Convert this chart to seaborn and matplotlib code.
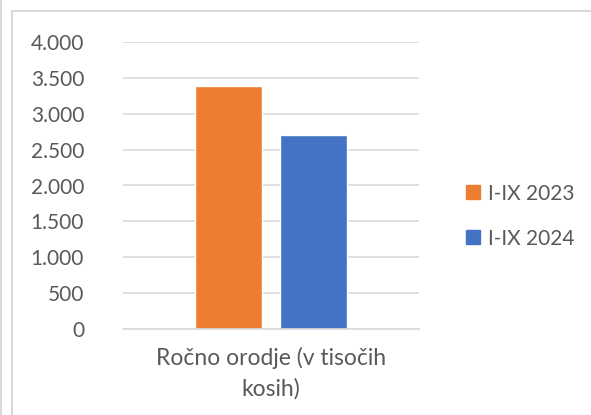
import matplotlib
matplotlib.use("Agg")
import matplotlib.pyplot as plt
import seaborn as sns
import pandas as pd
from matplotlib.lines import Line2D

categories = ["Ročno orodje (v tisočih\nkosih)"]
series = ["I-IX 2023", "I-IX 2024"]
values_2023 = [3385]
values_2024 = [2700]
colors = ["#ED7D31", "#4472C4"]
yticks = [0, 500, 1000, 1500, 2000, 2500, 3000, 3500, 4000]
ytick_labels = ["0", "500", "1.000", "1.500", "2.000", "2.500", "3.000", "3.500", "4.000"]

df = pd.DataFrame({
    "cat": categories * 2,
    "series": [series[0]] * len(categories) + [series[1]] * len(categories),
    "value": values_2023 + values_2024,
})

sns.set_theme(style="white")
plt.rcParams['font.family'] = ['Lato', 'DejaVu Sans']

fig = plt.figure(figsize=(5.91, 4.15), dpi=100)
ax = fig.add_axes([123/591, 1 - 329/415, (419-123)/591, (329-42)/415])

sns.barplot(data=df, x="cat", y="value", hue="series", palette=colors,
            width=0.574, gap=0.21, ax=ax, legend=False, saturation=1)

ax.set_xlim(-0.5, 0.5)
ax.set_ylim(0, 4000)
ax.set_yticks(yticks)
ax.set_yticklabels(ytick_labels, fontsize=15, color="#595959")
ax.tick_params(axis="y", length=0, pad=28)
ax.tick_params(axis="x", length=0, pad=13, labelsize=16.5, labelcolor="#595959")
for lbl in ax.get_yticklabels():
    lbl.set_horizontalalignment("right")
ax.grid(axis="y", color="#d9d9d9", linewidth=1.2)
ax.set_axisbelow(True)
for s in ["top", "right", "left"]:
    ax.spines[s].set_visible(False)
ax.spines["bottom"].set_color("#d9d9d9")
ax.spines["bottom"].set_linewidth(1.2)
ax.set_xlabel("")
ax.set_ylabel("")
for lbl in ax.get_xticklabels():
    lbl.set_linespacing(1.5)

handles = [Line2D([], [], marker="s", linestyle="", markersize=10,
                  markerfacecolor=c, markeredgecolor=c) for c in colors]
leg = fig.legend(handles, series, loc="center left",
                 bbox_to_anchor=(445/591, 1 - 216/415), frameon=False,
                 fontsize=15, labelspacing=1.2, handletextpad=0.25,
                 handlelength=0.9)
for t in leg.get_texts():
    t.set_color("#595959")

# outer frame lines
fig.add_artist(Line2D([0.5/591, 0.5/591], [0, 1], color="#d9d9d9", linewidth=1.5,
                      transform=fig.transFigure))
fig.add_artist(Line2D([11.5/591, 11.5/591], [0, 1 - 11/415], color="#d9d9d9", linewidth=1.5,
                      transform=fig.transFigure))
fig.add_artist(Line2D([11.5/591, 1], [1 - 11/415, 1 - 11/415], color="#d9d9d9", linewidth=1.5,
                      transform=fig.transFigure))

fig.savefig("out.png", dpi=100)
